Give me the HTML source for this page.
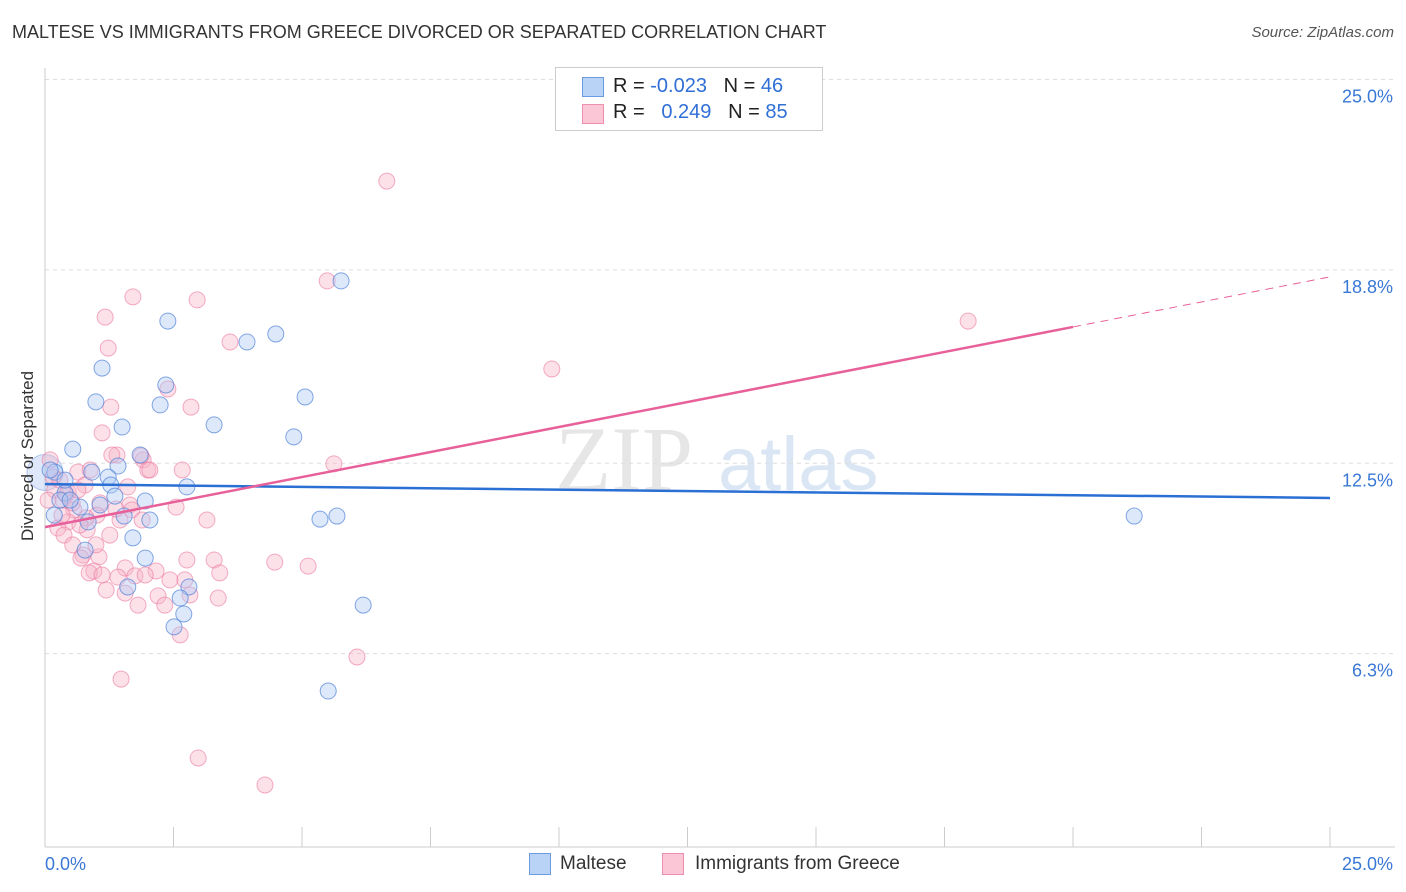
<!DOCTYPE html>
<html><head><meta charset="utf-8"><style>
body{margin:0;background:#fff;font-family:"Liberation Sans",sans-serif;}
#wrap{position:relative;width:1406px;height:892px;overflow:hidden;}
.t{position:absolute;white-space:nowrap;}
</style></head><body>
<div id="wrap">
<div class="t" style="left:12px;top:22px;font-size:18px;color:#333;">MALTESE VS IMMIGRANTS FROM GREECE DIVORCED OR SEPARATED CORRELATION CHART</div>
<div class="t" style="right:12px;top:24px;font-size:15px;color:#555;font-style:italic;">Source: ZipAtlas.com</div>
<svg id="svg" width="1406" height="892" style="position:absolute;left:0;top:0"></svg>
<div class="t" style="left:15px;top:456px;font-size:17px;color:#333;transform:translate(-50%,-50%) rotate(-90deg);transform-origin:center;left:28px;">Divorced or Separated</div>
<div style="position:absolute;left:555px;top:67px;width:266px;height:62px;border:1px solid #ccc;background:#fff;">
 <div style="position:absolute;left:26px;top:9px;width:20px;height:18px;background:#b8d3f5;border:1px solid #6a9be0;"></div>
 <div class="t" style="left:57px;top:7px;font-size:20px;color:#222;">R = <span style="color:#2f6fd6">-0.023</span>&nbsp;&nbsp;&nbsp;N = <span style="color:#2f6fd6">46</span></div>
 <div style="position:absolute;left:26px;top:36px;width:20px;height:18px;background:#fbc6d6;border:1px solid #ee8fae;"></div>
 <div class="t" style="left:57px;top:33px;font-size:20px;color:#222;">R = &nbsp;&nbsp;<span style="color:#2f6fd6">0.249</span>&nbsp;&nbsp;&nbsp;N = <span style="color:#2f6fd6">85</span></div>
</div>
<div style="position:absolute;left:529px;top:853px;width:20px;height:20px;background:#b8d3f5;border:1px solid #6a9be0;"></div>
<div class="t" style="left:560px;top:853px;font-size:19px;color:#333;">Maltese</div>
<div style="position:absolute;left:662px;top:853px;width:20px;height:20px;background:#fbc6d6;border:1px solid #ee8fae;"></div>
<div class="t" style="left:695px;top:853px;font-size:19px;color:#333;">Immigrants from Greece</div>
</div>
<script>
const yTicks=[25,18.8,12.5,6.3];
const yTickLabels=["25.0%","18.8%","12.5%","6.3%"];
const xTickLabels=["0.0%","25.0%"];
const blueX=[5.76,2.39,3.93,4.49,1.11,0.99,2.35,2.24,5.06,3.29,1.50,4.84,0.54,1.85,1.42,0.91,0.19,1.23,1.28,2.76,0.39,0.68,1.95,1.36,0.29,0.18,0.84,1.54,2.04,5.35,5.68,1.71,0.78,1.95,2.80,1.61,2.63,2.70,2.51,6.19,5.51,21.19,0.10,0.49,1.07,0.39];
const blueY=[18.44,17.13,16.45,16.71,15.60,14.50,15.05,14.40,14.66,13.75,13.68,13.36,12.96,12.77,12.41,12.21,12.21,12.05,11.79,11.73,11.53,11.07,11.27,11.43,11.30,10.81,10.59,10.78,10.65,10.68,10.78,10.07,9.67,9.41,8.47,8.47,8.11,7.59,7.17,7.88,5.08,10.78,12.28,11.30,11.14,11.95];
const pinkX=[6.65,5.49,1.71,2.96,1.17,1.23,3.60,9.86,17.96,2.39,1.28,2.84,1.11,1.40,1.91,2.00,2.67,0.64,5.62,1.61,0.78,0.19,0.45,0.35,1.07,1.65,2.55,0.56,1.01,1.46,3.15,0.45,0.25,0.82,0.37,0.54,0.74,1.05,1.56,3.29,2.76,0.70,4.47,5.12,0.95,0.86,1.11,1.42,2.16,1.75,3.40,2.72,1.56,2.20,3.37,1.81,2.33,2.63,1.48,6.07,2.98,4.28,0.10,0.16,0.29,0.41,0.53,0.88,0.80,1.26,1.69,1.89,0.68,1.38,2.04,2.43,2.82,1.87,0.06,0.99,0.64,1.30,0.33,1.19,1.95];
const pinkY=[21.69,18.44,17.92,17.82,17.26,16.25,16.45,15.57,17.13,14.92,14.33,14.33,13.49,12.77,12.61,12.28,12.28,12.21,12.48,11.73,11.79,11.63,11.56,11.30,11.21,11.14,11.07,10.98,10.81,10.65,10.65,10.59,10.39,10.33,10.16,9.84,9.51,9.45,9.09,9.35,9.35,9.41,9.28,9.15,8.99,8.93,8.86,8.79,8.99,8.83,8.93,8.70,8.27,8.18,8.11,7.88,7.88,6.91,5.47,6.19,2.90,2.02,12.61,12.05,11.95,11.47,11.21,12.28,10.72,10.16,10.98,10.65,10.49,11.01,12.28,8.70,8.21,12.74,11.30,9.84,11.63,12.77,10.81,8.37,8.86];
const blueLine=[11.82,-0.018];
const pinkLine=[10.42,0.326];
const X=v=>45+v*51.4, Y=v=>847-v*30.7;
const svg=document.getElementById('svg');const NS='http://www.w3.org/2000/svg';
function mk(t,a,p){const e=document.createElementNS(NS,t);for(const k in a)e.setAttribute(k,a[k]);(p||svg).appendChild(e);return e;}
const wm=mk('text',{x:555,y:490,'font-size':92,fill:'#e6e6e6','font-family':'Liberation Serif'});wm.textContent='ZIP';


const wm2=mk('text',{x:718,y:490,'font-size':76,fill:'#dbe6f5','font-family':'Liberation Sans'});wm2.textContent='atlas';


yTicks.forEach((v,i)=>{const g=mk('line',{x1:45,x2:1395,y1:Y(v),y2:Y(v),stroke:'#ddd','stroke-dasharray':'4,4'});


const t=mk('text',{x:1393,y:Y(v)+23,'text-anchor':'end','font-size':18,fill:'#3a78d6'});t.textContent=yTickLabels[i];

});
const ax=mk('line',{x1:45,x2:45,y1:68,y2:847,stroke:'#ccc'});


const bx=mk('line',{x1:45,x2:1395,y1:847,y2:847,stroke:'#ccc'});


for(let i=0;i<=10;i++){const tk=mk('line',{x1:X(i*2.5),x2:X(i*2.5),y1:827,y2:847,stroke:'#ccc'});

}
xTickLabels.forEach((l,i)=>{const t=mk('text',{x:i?1393:45,y:870,'text-anchor':i?'end':'start','font-size':18,fill:'#3a78d6'});t.textContent=l;

});
const big=mk('circle',{cx:X(0),cy:Y(12.2),r:18,fill:'rgba(160,190,240,0.35)',stroke:'rgba(110,150,220,0.5)'});


pinkX.forEach((x,i)=>{const c=mk('circle',{cx:X(x),cy:Y(pinkY[i]),r:8,fill:'rgba(248,180,200,0.4)',stroke:'rgba(235,120,160,0.6)'});

});
blueX.forEach((x,i)=>{const c=mk('circle',{cx:X(x),cy:Y(blueY[i]),r:8,fill:'rgba(170,200,245,0.4)',stroke:'rgba(80,130,215,0.7)'});

});
const bl=mk('line',{x1:X(0),y1:Y(blueLine[0]),x2:X(25),y2:Y(blueLine[0]+25*blueLine[1]),stroke:'#2a6fd3','stroke-width':2.5});


const pl=mk('line',{x1:X(0),y1:Y(pinkLine[0]),x2:X(20),y2:Y(pinkLine[0]+20*pinkLine[1]),stroke:'#e8609a','stroke-width':2.5});


const pd=mk('line',{x1:X(20),y1:Y(pinkLine[0]+20*pinkLine[1]),x2:X(25),y2:Y(pinkLine[0]+25*pinkLine[1]),stroke:'#e8609a','stroke-width':1,'stroke-dasharray':'8,6'});


</script>
</body></html>
